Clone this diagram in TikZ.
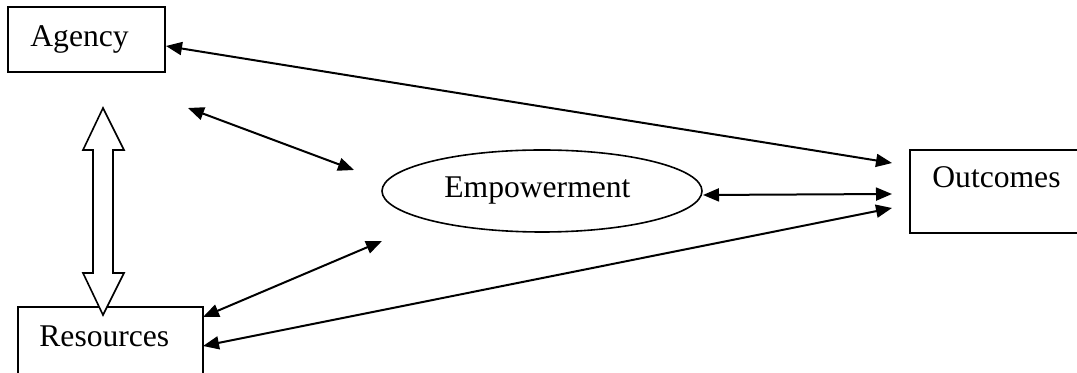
\documentclass[tikz,border=0pt]{standalone}
\usepackage{fontspec}
\setmainfont{Liberation Serif}
\usetikzlibrary{arrows.meta,shapes.geometric}
\begin{document}
\begin{tikzpicture}[x=0.5pt,y=-0.5pt,
  box/.style={draw,line width=1pt,inner sep=0pt},
  lbl/.style={anchor=base west,inner sep=0pt,font=\fontsize{15.8}{18}\selectfont},
  link/.style={line width=1pt,{Triangle[length=8pt,width=6.5pt]}-{Triangle[length=8pt,width=6.5pt]}},
  block/.style={draw,line width=0.8pt,fill=white,line join=miter}]
\useasboundingbox (0,0) rectangle (1077,373);
\clip (0,0) rectangle (1077,373);
% boxes
\node[box,minimum width=78.5pt,minimum height=32.5pt] (agency) at (86.5,39.5) {};
\node[lbl] (agencyt) at (30,47) {Agency};
\node[box,minimum width=92.5pt,minimum height=45pt] (resources) at (110.5,352) {};
\node[lbl] (resourcest) at (39,347) {Resources};
\node[box,minimum width=90pt,minimum height=41.5pt] (outcomes) at (1000,191.5) {};
\node[lbl] (outcomest) at (932,188) {Outcomes};
\node[draw,ellipse,line width=0.8pt,minimum width=160pt,minimum height=41pt,inner sep=0pt] (emp) at (542,191) {};
\node[lbl] (empt) at (444,198) {Empowerment};
% connector end points
\coordinate (a1) at (166,46);
\coordinate (o1) at (892,163);
\coordinate (a2) at (188,108);
\coordinate (e2) at (354,170);
\coordinate (e3) at (703,195);
\coordinate (o3) at (892,194);
\coordinate (r4) at (203,346);
\coordinate (o4) at (892,208);
\coordinate (r5) at (203,317);
\coordinate (e5) at (382,241);
% connectors
\draw[link] (a1) -- (o1);
\draw[link] (a2) -- (e2);
\draw[link] (e3) -- (o3);
\draw[link] (r4) -- (o4);
\draw[link] (r5) -- (e5);
% block double arrow between Agency and Resources
\draw[block] (103,108) -- (124,150) -- (113,150) -- (113,273) -- (124,273) -- (103,315)
  -- (83,273) -- (93,273) -- (93,150) -- (83,150) -- cycle;
\end{tikzpicture}
\end{document}
